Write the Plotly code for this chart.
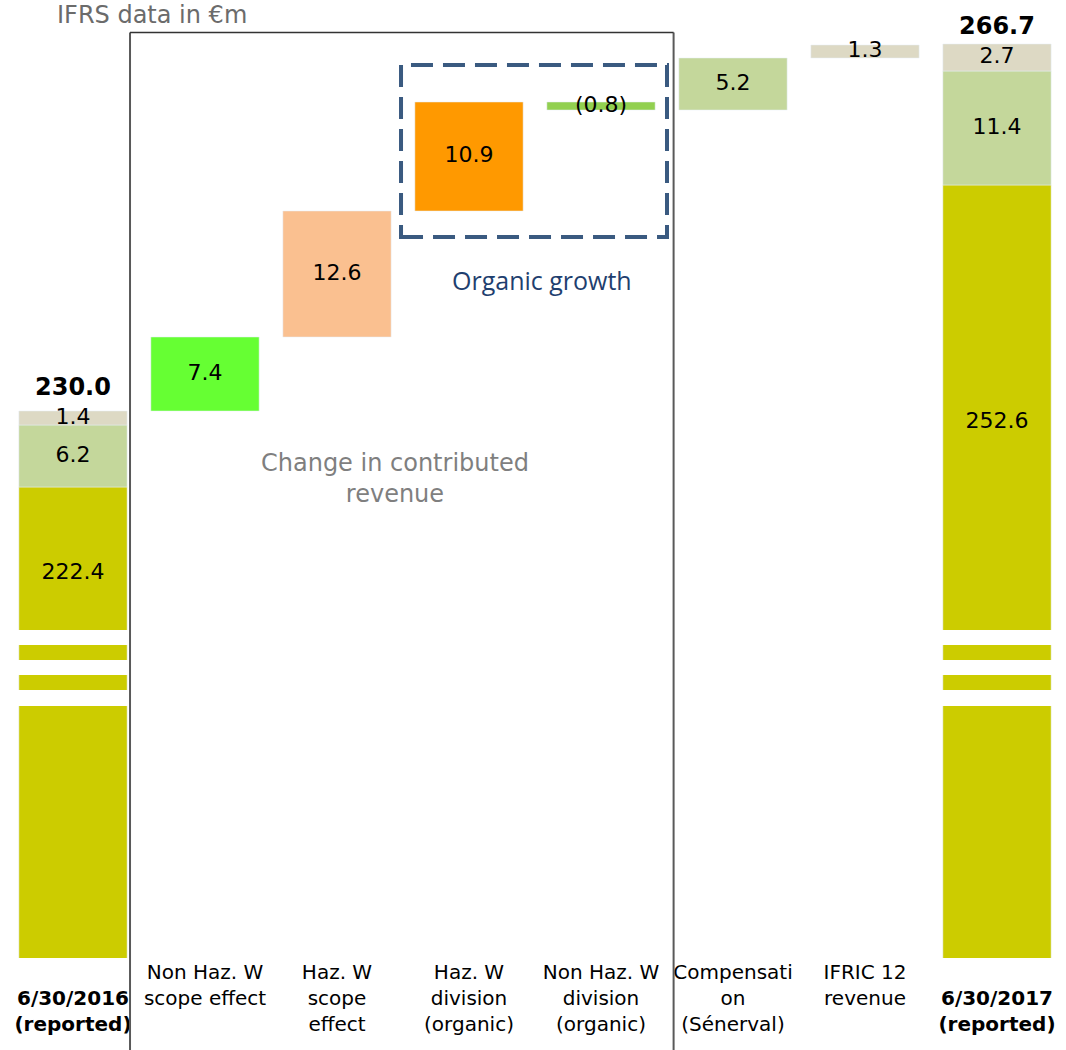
import plotly.graph_objects as go

# ---------------- data ----------------
categories = [
    "<br><b>6/30/2016<br>(reported)</b>",
    "Non Haz. W<br>scope effect",
    "Haz. W<br>scope<br>effect",
    "Haz. W<br>division<br>(organic)",
    "Non Haz. W<br>division<br>(organic)",
    "Compensati<br>on<br>(Sénerval)",
    "IFRIC 12<br>revenue",
    "<br><b>6/30/2017<br>(reported)</b>",
]
open_parts = [222.4, 6.2, 1.4]
open_total = 230.0
close_parts = [252.6, 11.4, 2.7]
close_total = 266.7
changes = [7.4, 12.6, 10.9, -0.8, 5.2, 1.3]
change_labels = ["7.4", "12.6", "10.9", "(0.8)", "5.2", "1.3"]
part_colors = ["#CCCC00", "#C4D79B", "#DDD9C4"]
change_colors = ["#66FF33", "#FAC090", "#FF9900", "#92D050", "#C4D79B", "#DDD9C4"]
break_gaps = [(206.6, 208.1), (203.6, 205.1), (200.5, 202.1)]
y_range = [175.3, 271.1]

FONT = "DejaVu Sans"
LABEL_SIZE = 22
fig = go.Figure()

# stacked totals
for xi, parts in ((0, open_parts), (7, close_parts)):
    base = 0.0
    for p, c in zip(parts, part_colors):
        fig.add_trace(go.Bar(x=[categories[xi]], y=[p], base=[base], marker_color=c,
                             width=0.82, showlegend=False, hoverinfo="skip"))
        top = base + p
        if base == 0.0:
            ymid = (break_gaps[0][1] + top) / 2 - 1.5
        else:
            ymid = base + p / 2
        fig.add_trace(go.Scatter(x=[categories[xi]], y=[ymid], mode="text",
                                 text=[f"{p:.1f}"],
                                 textfont=dict(size=LABEL_SIZE, color="black", family=FONT),
                                 showlegend=False, hoverinfo="skip"))
        base = top

# floating changes
level = open_total
for i, (v, lab, c) in enumerate(zip(changes, change_labels, change_colors)):
    b = level if v >= 0 else level + v
    cat = categories[i + 1]
    fig.add_trace(go.Bar(x=[cat], y=[abs(v)], base=[b], marker_color=c,
                         width=0.82, showlegend=False, hoverinfo="skip"))
    fig.add_trace(go.Scatter(x=[cat], y=[b + abs(v) / 2], mode="text", text=[lab],
                             textfont=dict(size=LABEL_SIZE, color="black", family=FONT),
                             showlegend=False, hoverinfo="skip"))
    level += v

shapes = []
# axis break stripes
for xi in (0, 7):
    for lo, hi in break_gaps:
        shapes.append(dict(type="rect", xref="x", yref="y", x0=xi - 0.45, x1=xi + 0.45,
                           y0=lo, y1=hi, fillcolor="white", line_width=0, layer="above"))
# frame around change in contributed revenue
shapes.append(dict(type="line", xref="x", yref="paper", x0=0.432, x1=0.432, y0=-0.2, y1=0.966,
                   line=dict(color="#595959", width=2)))
shapes.append(dict(type="line", xref="x", yref="paper", x0=4.55, x1=4.55, y0=-0.2, y1=0.966,
                   line=dict(color="#595959", width=2)))
shapes.append(dict(type="line", xref="x", yref="paper", x0=0.432, x1=4.55, y0=0.966, y1=0.966,
                   line=dict(color="#333333", width=1.5)))
# organic growth dashed box
shapes.append(dict(type="rect", xref="x", yref="y", x0=2.485, x1=4.5, y0=247.4, y1=264.6,
                   line=dict(color="#3A5A80", width=4, dash="22px,10px"),
                   fillcolor="rgba(0,0,0,0)"))

annotations = [
    dict(text="IFRS data in €m", xref="paper", yref="paper", x=0.045, y=1, yshift=-15,
         xanchor="left", yanchor="middle", showarrow=False,
         font=dict(size=24, color="#6B6B6B", family=FONT)),
    dict(text="Organic growth", xref="x", yref="y", x=3.55, y=243.1, showarrow=False,
         font=dict(size=25, color="#1F3F6F", family="Open Sans")),
    dict(text="Change in contributed<br>revenue", xref="x", yref="y", x=2.44, y=223.3,
         showarrow=False, font=dict(size=24, color="#7F7F7F", family=FONT)),
]
for xi, tot in ((0, open_total), (7, close_total)):
    annotations.append(dict(text=f"<b>{tot:.1f}</b>", xref="x", yref="y",
                            x=categories[xi], y=tot, yanchor="bottom", yshift=8 if xi == 0 else 2,
                            showarrow=False,
                            font=dict(size=24, color="black", family=FONT)))

fig.update_layout(
    width=1066, height=1050,
    margin=dict(l=7, r=3, t=0, b=92),
    plot_bgcolor="white", paper_bgcolor="white",
    barmode="overlay",
    shapes=shapes, annotations=annotations,
    xaxis=dict(type="category", categoryorder="array", categoryarray=categories,
               range=[-0.5, 7.5], showgrid=False, zeroline=False, showline=False,
               ticks="", tickfont=dict(size=20, color="black", family=FONT)),
    yaxis=dict(range=y_range, visible=False, showgrid=False, zeroline=False),
    font=dict(family=FONT),
)

fig.write_html("out.html")
